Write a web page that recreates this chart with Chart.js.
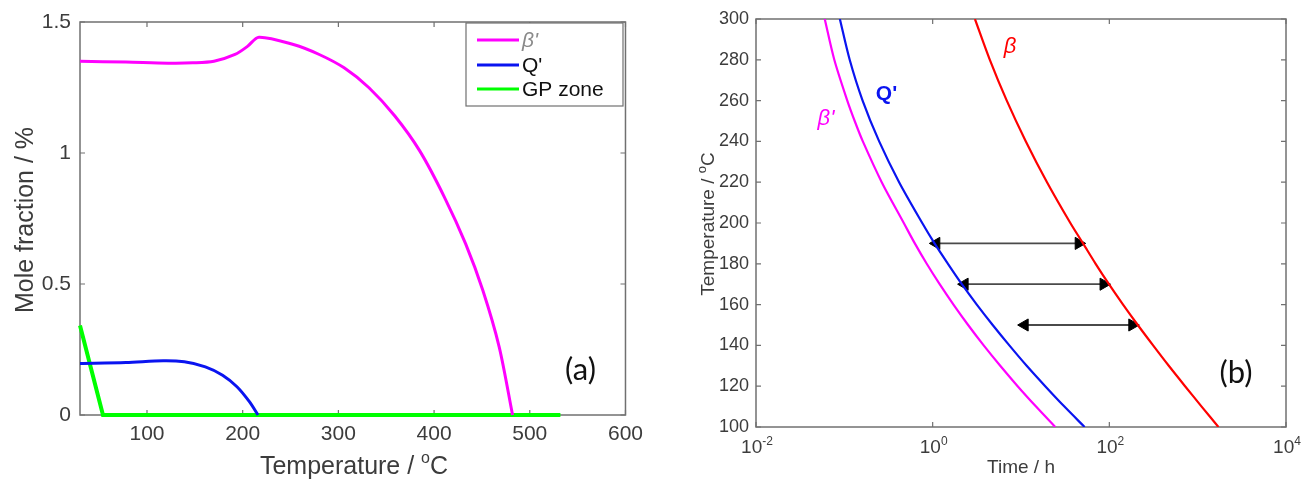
<!DOCTYPE html>
<html>
<head>
<meta charset="utf-8">
<script src="https://cdn.jsdelivr.net/npm/chart.js@4.4.0/dist/chart.umd.min.js"></script>
<style>
  body { margin: 0; background: #fff; }
  .panel { position: absolute; top: 0; height: 482px; }
</style>
</head>
<body>
<div class="panel" style="left:0;width:650px"><canvas id="chartA"></canvas></div>
<div class="panel" style="left:650px;width:659px"><canvas id="chartB"></canvas></div>
<script>
// ---- (a) mole fraction vs temperature ----
var betaPrimeT = [30, 78, 122, 148, 170, 192, 205, 217, 253, 280, 306, 332, 359, 385, 411, 433, 451, 468, 482];
var betaPrimeFrac = [1.350, 1.347, 1.343, 1.344, 1.350, 1.376, 1.407, 1.442, 1.414, 1.376, 1.325, 1.249, 1.141, 1.008, 0.830, 0.653, 0.475, 0.260, 0];
var qPrimeT = [30, 78, 117, 139, 161, 179, 194, 207, 216];
var qPrimeFrac = [0.197, 0.200, 0.207, 0.203, 0.184, 0.152, 0.108, 0.051, 0];
var gpT = [30, 54, 532];
var gpFrac = [0.342, 0, 0];
var tempTicksA = [100, 200, 300, 400, 500, 600];
var fracTicks = [0, 0.5, 1, 1.5];
var legendA = ["\u03b2'", "Q'", "GP zone"];

// ---- (b) temperature vs time ----
var betaPrimeTemp = [300, 280, 260, 250, 240, 220, 200, 190, 180, 170, 160, 150, 140, 130, 120, 110, 100];
var betaPrimeTime = [0.060, 0.077, 0.108, 0.131, 0.162, 0.265, 0.471, 0.628, 0.857, 1.20, 1.72, 2.52, 3.78, 5.82, 9.16, 14.8, 24.4];
var qPrimeTemp = [300, 280, 260, 240, 220, 200, 190, 180, 170, 160, 150, 140, 130, 120, 110, 100];
var qPrimeTime = [0.089, 0.115, 0.161, 0.248, 0.417, 0.762, 1.05, 1.49, 2.14, 3.16, 4.78, 7.38, 11.6, 18.8, 31.0, 52.5];
var betaTemp = [300, 280, 260, 240, 220, 200, 190, 180, 170, 160, 150, 140, 130, 120, 110, 100];
var betaTime = [3.01, 4.44, 6.90, 11.35, 19.7, 36.2, 50.4, 70, 99, 143, 210, 313, 471, 720, 1109, 1718];
var arrowTemp = [190, 170, 150];
var arrowFrom = [1.1, 2.3, 11];
var arrowTo = [45, 86, 182];
var timeTicks = [0.01, 1, 100, 10000];
var timeExp = ["-2", "0", "2", "4"];
var tempTicksB = [100, 120, 140, 160, 180, 200, 220, 240, 260, 280, 300];

var sans = "'Liberation Sans', Arial, Helvetica, sans-serif";
var tickColor = '#3c3c3c';

function pts(xs, ys) {
  return xs.map(function(x, i) { return {x: x, y: ys[i]}; });
}

// box round the plot plus MATLAB style inward ticks
var framePlugin = {
  id: 'frame',
  beforeDatasetsDraw: function(chart, args, opts) {
    var ctx = chart.ctx, a = chart.chartArea;
    var xs = chart.scales.x, ys = chart.scales.y;
    ctx.save();
    ctx.strokeStyle = '#707070';
    ctx.lineWidth = 1.5;
    ctx.strokeRect(a.left, a.top, a.right - a.left, a.bottom - a.top);
    ctx.lineWidth = 1.2;
    ctx.beginPath();
    opts.xTicks.forEach(function(v) {
      var px = xs.getPixelForValue(v);
      ctx.moveTo(px, a.bottom); ctx.lineTo(px, a.bottom - opts.len);
      ctx.moveTo(px, a.top); ctx.lineTo(px, a.top + opts.len);
    });
    opts.yTicks.forEach(function(v) {
      var py = ys.getPixelForValue(v);
      ctx.moveTo(a.left, py); ctx.lineTo(a.left + opts.len, py);
      ctx.moveTo(a.right, py); ctx.lineTo(a.right - opts.len, py);
    });
    ctx.stroke();
    ctx.restore();
  }
};

// free text: axis titles, labels, legend
var textPlugin = {
  id: 'texts',
  afterDraw: function(chart, args, opts) {
    var ctx = chart.ctx;
    ctx.save();
    opts.draw(ctx, chart);
    ctx.restore();
  }
};

function supText(ctx, x, y, parts, align) {
  // parts: [[text, font, dy], ...] drawn in a row
  var w = 0;
  parts.forEach(function(p) { ctx.font = p[1]; w += ctx.measureText(p[0]).width; });
  var cx = align === 'center' ? x - w / 2 : x;
  ctx.textAlign = 'left';
  parts.forEach(function(p) {
    ctx.font = p[1];
    ctx.fillText(p[0], cx, y + p[2]);
    cx += ctx.measureText(p[0]).width;
  });
}

// ---------- chart (a) ----------
new Chart(document.getElementById('chartA'), {
  type: 'line',
  data: {
    datasets: [
      { label: legendA[0], data: pts(betaPrimeT, betaPrimeFrac), borderColor: '#ff00ff', borderWidth: 3 },
      { label: legendA[1], data: pts(qPrimeT, qPrimeFrac), borderColor: '#0a14f0', borderWidth: 3 },
      { label: legendA[2], data: pts(gpT, gpFrac), borderColor: '#00ff00', borderWidth: 4, tension: 0 }
    ]
  },
  options: {
    responsive: true,
    maintainAspectRatio: false,
    animation: false,
    devicePixelRatio: 1,
    layout: { padding: { top: 22, right: 21, left: 0, bottom: 0 } },
    elements: { point: { radius: 0 }, line: { tension: 0.3 } },
    datasets: { line: { clip: 6 } },
    plugins: {
      legend: { display: false },
      tooltip: { enabled: false },
      frame: { xTicks: tempTicksA, yTicks: fracTicks, len: 5 },
      texts: {
        draw: function(ctx, chart) {
          var xs = chart.scales.x, ys = chart.scales.y;
          ctx.fillStyle = '#3c3c3c';
          ctx.textBaseline = 'alphabetic';
          supText(ctx, 354, 474, [['Temperature / ', '25px ' + sans, 0], ['o', '16px ' + sans, -11], ['C', '25px ' + sans, 0]], 'center');
          ctx.save();
          ctx.translate(33, 220);
          ctx.rotate(-Math.PI / 2);
          ctx.textAlign = 'center';
          ctx.font = '25px ' + sans;
          ctx.fillText('Mole fraction / %', 0, 0);
          ctx.restore();
          // panel tag
          ctx.fillStyle = '#111';
          ctx.font = '31px Lato, sans-serif';
          ctx.textAlign = 'center';
          ctx.textBaseline = 'middle';
          ctx.fillText('(a)', xs.getPixelForValue(553), ys.getPixelForValue(0.171));
          // legend box
          var lx = 466, ly = 23, lw = 157, lh = 83;
          ctx.fillStyle = '#fff';
          ctx.fillRect(lx, ly, lw, lh);
          ctx.strokeStyle = '#707070';
          ctx.lineWidth = 1.2;
          ctx.strokeRect(lx, ly, lw, lh);
          var cols = ['#ff00ff', '#0a14f0', '#00ff00'];
          var rows = [40, 65, 89];
          legendA.forEach(function(name, i) {
            ctx.strokeStyle = cols[i];
            ctx.lineWidth = 3;
            ctx.beginPath();
            ctx.moveTo(477, rows[i]); ctx.lineTo(519, rows[i]);
            ctx.stroke();
            ctx.textAlign = 'left';
            ctx.textBaseline = 'middle';
            if (i === 0) {
              ctx.fillStyle = '#8a8a8a';
              ctx.font = 'italic 21px ' + sans;
            } else {
              ctx.fillStyle = '#111';
              ctx.font = '21px ' + sans;
            }
            ctx.fillText(name, 522, rows[i] + 1);
          });
        }
      }
    },
    scales: {
      x: {
        type: 'linear',
        min: 30,
        max: 600,
        afterFit: function(s) { s.height = 67; },
        afterBuildTicks: function(s) { s.ticks = tempTicksA.map(function(v) { return {value: v}; }); },
        grid: { display: false, drawTicks: false },
        border: { display: false },
        ticks: { color: tickColor, font: { family: sans, size: 21 }, padding: 7, maxRotation: 0 }
      },
      y: {
        type: 'linear',
        min: 0,
        max: 1.5,
        afterFit: function(s) { s.width = 80; },
        afterBuildTicks: function(s) { s.ticks = fracTicks.map(function(v) { return {value: v}; }); },
        grid: { display: false, drawTicks: false },
        border: { display: false },
        ticks: { color: tickColor, font: { family: sans, size: 21 }, padding: 9,
                 callback: function(v) { return String(v); } }
      }
    }
  },
  plugins: [framePlugin, textPlugin]
});

// ---------- chart (b) ----------
var arrowSets = arrowTemp.map(function(t, i) {
  return {
    label: 'arrow ' + t,
    data: [{x: arrowFrom[i], y: t}, {x: arrowTo[i], y: t}],
    borderColor: '#4a4a4a',
    borderWidth: 1.8,
    tension: 0,
    pointRadius: 7,
    pointStyle: 'triangle',
    pointRotation: [-90, 90],
    pointBackgroundColor: '#000',
    pointBorderColor: '#000',
    pointBorderWidth: 1
  };
});

new Chart(document.getElementById('chartB'), {
  type: 'line',
  data: {
    datasets: [
      { label: "\u03b2'", data: pts(betaPrimeTime, betaPrimeTemp), borderColor: '#ff00ff', borderWidth: 2.2 },
      { label: "Q'", data: pts(qPrimeTime, qPrimeTemp), borderColor: '#0a14f0', borderWidth: 2.2 },
      { label: '\u03b2', data: pts(betaTime, betaTemp), borderColor: '#ff0000', borderWidth: 2.2 }
    ].concat(arrowSets)
  },
  options: {
    responsive: true,
    maintainAspectRatio: false,
    animation: false,
    devicePixelRatio: 1,
    layout: { padding: { top: 19, right: 23, left: 0, bottom: 0 } },
    elements: { point: { radius: 0 }, line: { tension: 0.3 } },
    plugins: {
      legend: { display: false },
      tooltip: { enabled: false },
      frame: { xTicks: timeTicks, yTicks: tempTicksB, len: 5 },
      texts: {
        draw: function(ctx, chart) {
          var xs = chart.scales.x, ys = chart.scales.y;
          ctx.fillStyle = '#3c3c3c';
          ctx.textBaseline = 'alphabetic';
          // log tick labels
          timeTicks.forEach(function(v, i) {
            supText(ctx, xs.getPixelForValue(v) + 1, 453, [['10', '19px ' + sans, 0], [timeExp[i], '12px ' + sans, -8]], 'center');
          });
          ctx.font = '19px ' + sans;
          ctx.textAlign = 'center';
          ctx.fillText('Time / h', 371, 473);
          ctx.save();
          ctx.translate(64, 224);
          ctx.rotate(-Math.PI / 2);
          supText(ctx, 0, 0, [['Temperature / ', '19px ' + sans, 0], ['o', '13px ' + sans, -8], ['C', '19px ' + sans, 0]], 'center');
          ctx.restore();
          // curve labels
          ctx.textAlign = 'center';
          ctx.textBaseline = 'middle';
          ctx.fillStyle = '#ff00ff';
          ctx.font = 'italic 22px ' + sans;
          ctx.fillText("\u03b2'", xs.getPixelForValue(0.062), ys.getPixelForValue(251));
          ctx.fillStyle = '#0a14f0';
          ctx.font = 'bold 21px ' + sans;
          ctx.fillText("Q'", xs.getPixelForValue(0.30), ys.getPixelForValue(263));
          ctx.fillStyle = '#ff0000';
          ctx.font = 'italic 22px ' + sans;
          ctx.fillText('\u03b2', xs.getPixelForValue(7.5), ys.getPixelForValue(286.5));
          ctx.fillStyle = '#111';
          ctx.font = '31px Lato, sans-serif';
          ctx.fillText('(b)', xs.getPixelForValue(2716), ys.getPixelForValue(126.5));
        }
      }
    },
    scales: {
      x: {
        type: 'logarithmic',
        min: 0.01,
        max: 10000,
        afterFit: function(s) { s.height = 55; },
        afterBuildTicks: function(s) { s.ticks = timeTicks.map(function(v) { return {value: v}; }); },
        grid: { display: false, drawTicks: false },
        border: { display: false },
        ticks: { display: false }
      },
      y: {
        type: 'linear',
        min: 100,
        max: 300,
        afterFit: function(s) { s.width = 106; },
        afterBuildTicks: function(s) { s.ticks = tempTicksB.map(function(v) { return {value: v}; }); },
        grid: { display: false, drawTicks: false },
        border: { display: false },
        ticks: { color: tickColor, font: { family: sans, size: 18 }, padding: 7 }
      }
    }
  },
  plugins: [framePlugin, textPlugin]
});
</script>
</body>
</html>
